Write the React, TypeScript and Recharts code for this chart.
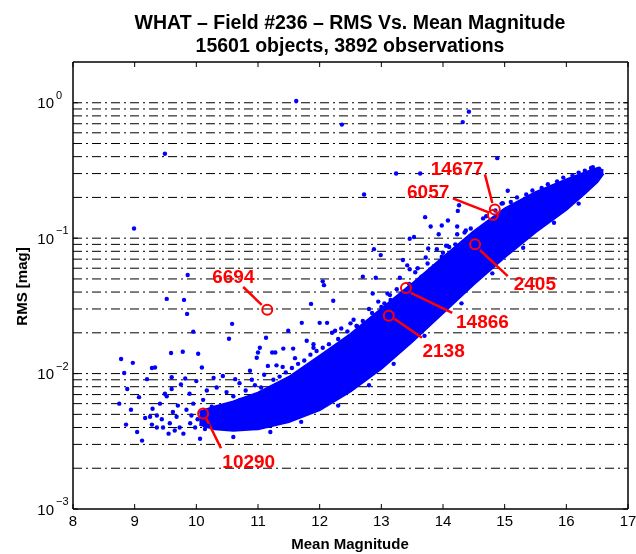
import React from 'react';
import { ComposedChart, Area, Scatter, XAxis, YAxis, CartesianGrid, ReferenceLine } from 'recharts';

const FONT = '"Liberation Sans", Arial, Helvetica, sans-serif';

const titleLine1 = 'WHAT – Field #236 – RMS Vs. Mean Magnitude';
const titleLine2 = '15601 objects, 3892 observations';
const xLabel = 'Mean Magnitude';
const yLabel = 'RMS [mag]';

const xTicks = [8, 9, 10, 11, 12, 13, 14, 15, 16, 17];
const yTicks = [0.001, 0.01, 0.1, 1];
const gridValues = [
  0.002, 0.003, 0.004, 0.005, 0.006, 0.007, 0.008, 0.009, 0.01,
  0.02, 0.03, 0.04, 0.05, 0.06, 0.07, 0.08, 0.09, 0.1,
  0.2, 0.3, 0.4, 0.5, 0.6, 0.7, 0.8, 0.9, 1,
];

// dense core of the RMS-magnitude sequence (lower / upper envelope)
const bandMag = [10.05, 10.3, 10.6, 11.0, 11.5, 12.0, 12.5, 13.0, 13.5, 14.0, 14.5, 15.0, 15.5, 16.0, 16.3, 16.5, 16.6];
const bandLow = [0.0042, 0.0039, 0.0038, 0.0039, 0.0044, 0.0054, 0.0074, 0.0109, 0.0172, 0.0281, 0.0459, 0.0725, 0.111, 0.163, 0.214, 0.26, 0.3];
const bandHigh = [0.0052, 0.0057, 0.0062, 0.0072, 0.0094, 0.0135, 0.0195, 0.03, 0.046, 0.072, 0.112, 0.165, 0.218, 0.27, 0.305, 0.328, 0.315];

const highOutliers: [number, number][] = [
  [8.99, 0.118], [9.49, 0.42], [11.62, 1.03], [12.36, 0.69], [12.72, 0.21], [13.24, 0.3],
  [13.63, 0.3], [14.42, 0.86], [14.32, 0.72], [14.88, 0.39], [15.05, 0.224], [14.97, 0.181],
];

const clusterAbove: [number, number][] = [
  [14.26, 0.175], [14.24, 0.159], [14.08, 0.135], [13.98, 0.124], [13.8, 0.122], [13.93, 0.107],
  [14.23, 0.122], [14.23, 0.107], [14.37, 0.114], [13.53, 0.102], [13.46, 0.099], [13.76, 0.084],
  [13.9, 0.083], [12.88, 0.083], [12.99, 0.075], [13.35, 0.069], [14.1, 0.086], [13.98, 0.073],
  [13.71, 0.143], [13.46, 0.059], [13.3, 0.051], [13.14, 0.038], [13.42, 0.063], [13.59, 0.06],
  [13.72, 0.072], [13.1, 0.039],
];

const midScatter: [number, number][] = [
  [9.86, 0.0535], [9.52, 0.0356], [9.8, 0.035], [9.85, 0.0276], [10.58, 0.0233], [9.95, 0.0204],
  [10.53, 0.0181], [9.78, 0.0145], [9.59, 0.0142], [10.03, 0.014], [11.23, 0.0143], [11.28, 0.0143],
  [10.98, 0.0131], [11.03, 0.0155], [11.13, 0.0184], [10.87, 0.0105], [11.16, 0.0114], [11.57, 0.0153],
  [11.71, 0.0237], [11.86, 0.0327], [11.79, 0.0175], [12.0, 0.0237], [12.12, 0.0237], [12.05, 0.048],
  [12.07, 0.045], [12.22, 0.0345], [12.25, 0.0207], [12.44, 0.0175], [12.7, 0.052], [12.91, 0.051],
  [12.86, 0.039], [12.6, 0.0225], [11.49, 0.0207], [11.0, 0.0143], [11.41, 0.0153],
];

const leftCloud: [number, number][] = [
  [9.33, 0.0111], [9.28, 0.011], [10.09, 0.0111], [9.6, 0.0094], [9.82, 0.0092], [10.0, 0.0088],
  [10.28, 0.0093], [10.43, 0.0096], [10.63, 0.0091], [9.49, 0.0071], [9.52, 0.0068], [9.6, 0.0077],
  [9.75, 0.0083], [9.89, 0.0071], [10.17, 0.0075], [9.41, 0.006], [9.36, 0.0049], [9.28, 0.0042],
  [9.44, 0.0046], [9.46, 0.004], [9.65, 0.0038], [9.79, 0.0036], [10.06, 0.0033], [10.14, 0.0039],
  [10.33, 0.0079], [10.49, 0.0073], [10.6, 0.0068], [10.71, 0.0064], [9.95, 0.006], [10.11, 0.0064],
  [10.25, 0.0057], [9.84, 0.0054], [9.68, 0.0048], [9.57, 0.0043], [9.9, 0.0043], [10.33, 0.0048],
  [10.46, 0.0052], [10.55, 0.0045], [10.65, 0.0048], [10.76, 0.0055], [10.87, 0.006], [9.36, 0.004],
  [9.55, 0.0036], [9.73, 0.004], [9.98, 0.004], [10.19, 0.0041], [10.38, 0.004], [10.6, 0.004],
  [9.25, 0.0048], [9.29, 0.0055], [8.83, 0.0101], [8.88, 0.0077], [8.75, 0.006], [8.94, 0.0054],
  [8.86, 0.0042], [9.04, 0.0037], [9.12, 0.0032], [9.17, 0.0047], [9.07, 0.0067], [9.2, 0.0091],
  [8.97, 0.012], [8.78, 0.0128], [9.7, 0.0058], [9.92, 0.0049], [10.02, 0.0046], [9.62, 0.0052],
];

const edgeDots: [number, number][] = [
  [10.7, 0.0085], [11.1, 0.0098], [11.3, 0.0115], [11.6, 0.013], [11.9, 0.0165], [12.2, 0.02],
  [12.35, 0.0215], [12.55, 0.025], [12.8, 0.03], [12.95, 0.034], [13.25, 0.042], [13.55, 0.056],
  [13.75, 0.065], [14.05, 0.088], [14.35, 0.11], [14.65, 0.14], [14.95, 0.18], [15.2, 0.2],
  [15.45, 0.225], [15.7, 0.25], [15.95, 0.28], [16.2, 0.305], [16.4, 0.33], [16.53, 0.326],
  [16.43, 0.335], [10.6, 0.0034], [11.2, 0.0037], [11.7, 0.0044], [12.3, 0.0058], [12.8, 0.0082],
  [13.2, 0.0118], [13.7, 0.019], [14.3, 0.033], [14.8, 0.055], [15.3, 0.085], [15.8, 0.13], [16.2, 0.18],
];

const upperSpeckle: [number, number][] = [
  [10.8, 0.0075], [10.95, 0.0082], [11.05, 0.0079], [11.25, 0.009], [11.35, 0.0095], [11.45, 0.0102],
  [11.55, 0.011], [11.65, 0.0118], [11.75, 0.0125], [11.85, 0.0138], [11.95, 0.0147], [12.05, 0.0155],
  [12.15, 0.0165], [12.3, 0.018], [12.45, 0.0205], [12.6, 0.0225], [12.7, 0.0245], [12.85, 0.028],
  [13.05, 0.033], [13.15, 0.035], [13.35, 0.04], [13.45, 0.046], [13.65, 0.052], [13.85, 0.062],
  [14.0, 0.078], [14.2, 0.09], [14.45, 0.118], [14.7, 0.145], [14.85, 0.16], [15.1, 0.185],
  [15.35, 0.21], [15.6, 0.235], [15.85, 0.262], [16.1, 0.29], [16.3, 0.315], [10.9, 0.009],
  [11.4, 0.0112], [12.5, 0.0235], [13.0, 0.031], [11.9, 0.0155],
];

// annotated stars
const annIds = ['14677', '6057', '2405', '14866', '2138', '6694', '10290'];
const annMag = [14.84, 14.81, 14.52, 13.4, 13.12, 11.15, 10.11];
const annRms = [0.163, 0.148, 0.09, 0.0428, 0.0267, 0.0296, 0.00508];
const lineStartMag = [14.8, 14.74, 14.6, 13.48, 13.21, 11.06, 10.16];
const lineStartRms = [0.182, 0.155, 0.0816, 0.0394, 0.0254, 0.0322, 0.00467];
const lineEndMag = [14.68, 14.16, 15.05, 14.15, 13.66, 10.76, 10.4];
const lineEndRms = [0.296, 0.197, 0.0525, 0.0281, 0.0184, 0.0436, 0.00281];
const labelMag = [14.23, 13.76, 15.49, 14.64, 14.01, 10.6, 10.85];
const labelRms = [0.33, 0.223, 0.0463, 0.0245, 0.0149, 0.0521, 0.00227];

const bandRows = bandMag.map((m, i) => ({ m, range: [bandLow[i], bandHigh[i]] }));
const toRows = (arr: [number, number][]) => arr.map(([m, r]) => ({ m, r }));
const allDots = [
  ...toRows(highOutliers), ...toRows(clusterAbove), ...toRows(midScatter),
  ...toRows(leftCloud), ...toRows(edgeDots), ...toRows(upperSpeckle),
];
const ringRows = annIds.map((id, i) => ({ id, m: annMag[i], r: annRms[i] }));
const labelRows = annIds.map((id, i) => ({ id, m: labelMag[i], r: labelRms[i] }));

const BLUE = '#0000ff';
const RED = '#ff0000';

const XTickBottom = (props: any) => {
  const { x, y, payload } = props;
  return (
    <g>
      <line x1={x} x2={x} y1={y} y2={y - 5} stroke="#000" strokeWidth={1} />
      <text x={x} y={y + 17} textAnchor="middle" fontSize={15} fontFamily={FONT} fill="#000">{payload.value}</text>
    </g>
  );
};
const XTickTop = (props: any) => {
  const { x, y } = props;
  return <line x1={x} x2={x} y1={y} y2={y + 5} stroke="#000" strokeWidth={1} />;
};
const YTickLeft = (props: any) => {
  const { x, y, payload } = props;
  const e = Math.round(Math.log10(payload.value));
  const exp = e < 0 ? '\u2212' + Math.abs(e) : String(e);
  return (
    <g>
      <line x1={x} x2={x + 5} y1={y} y2={y} stroke="#000" strokeWidth={1} />
      <text x={x - 19} y={y + 5.5} textAnchor="end" fontSize={15} fontFamily={FONT} fill="#000">10</text>
      <text x={x - 17} y={y - 4} textAnchor="start" fontSize={11} fontFamily={FONT} fill="#000">{exp}</text>
    </g>
  );
};
const YTickRight = (props: any) => {
  const { x, y } = props;
  return <line x1={x} x2={x - 5} y1={y} y2={y} stroke="#000" strokeWidth={1} />;
};

const Dot = (p: any) => <circle cx={p.cx} cy={p.cy} r={2.2} fill={BLUE} />;
const Ring = (p: any) => <circle cx={p.cx} cy={p.cy} r={5} fill="none" stroke={RED} strokeWidth={2} />;
const Label = (p: any) => (
  <text x={p.cx} y={p.cy + 6.8} textAnchor="middle" fontSize={19} fontWeight="bold" fontFamily={FONT} fill={RED}>
    {p.payload.id}
  </text>
);

const axisLine = { stroke: '#000', strokeWidth: 1.5 };

export default function App() {
  return (
    <div style={{ position: 'fixed', left: 0, top: 0, width: 636, height: 554, background: '#fff', fontFamily: FONT }}>
      <div style={{ position: 'absolute', left: 0, width: 700, top: 12.9, fontSize: 19.5, lineHeight: '19.5px', fontWeight: 'bold', textAlign: 'center', whiteSpace: 'nowrap' }}>
        {titleLine1}
      </div>
      <div style={{ position: 'absolute', left: 0, width: 700, top: 35.9, fontSize: 19.5, lineHeight: '19.5px', fontWeight: 'bold', textAlign: 'center', whiteSpace: 'nowrap' }}>
        {titleLine2}
      </div>
      <ComposedChart width={636} height={554} data={bandRows} margin={{ top: 52, right: 0, bottom: 0, left: 13 }}>
        <CartesianGrid vertical={false} horizontalValues={gridValues} stroke="#000" strokeWidth={1} strokeDasharray="9 4 2 4" />
        <XAxis dataKey="m" type="number" domain={[8, 17]} ticks={xTicks} interval={0} allowDataOverflow height={45}
          tickSize={0} tickMargin={0} tickLine={false} axisLine={axisLine} tick={<XTickBottom />} />
        <XAxis xAxisId="top" orientation="top" dataKey="m" type="number" domain={[8, 17]} ticks={xTicks} interval={0}
          allowDataOverflow height={10} tickSize={0} tickMargin={0} tickLine={false} axisLine={axisLine} tick={<XTickTop />} />
        <YAxis scale="log" type="number" domain={[0.001, 2]} ticks={yTicks} interval={0} allowDataOverflow width={60}
          tickSize={0} tickMargin={0} tickLine={false} axisLine={axisLine} tick={<YTickLeft />} />
        <YAxis yAxisId="right" orientation="right" scale="log" type="number" domain={[0.001, 2]} ticks={yTicks} interval={0}
          allowDataOverflow width={8} tickSize={0} tickMargin={0} tickLine={false} axisLine={axisLine} tick={<YTickRight />} />
        <Area dataKey="range" type="linear" stroke={BLUE} strokeWidth={2.5} fill={BLUE} fillOpacity={1} isAnimationActive={false} />
        <Scatter data={allDots} dataKey="r" shape={<Dot />} isAnimationActive={false} />
        <Scatter data={ringRows} dataKey="r" shape={<Ring />} isAnimationActive={false} />
        {annIds.map((id, i) => (
          <ReferenceLine key={id} segment={[{ x: lineStartMag[i], y: lineStartRms[i] }, { x: lineEndMag[i], y: lineEndRms[i] }]}
            stroke={RED} strokeWidth={2.5} />
        ))}
        <Scatter data={labelRows} dataKey="r" shape={<Label />} isAnimationActive={false} />
      </ComposedChart>
      <div style={{ position: 'absolute', left: 250, width: 200, top: 536.3, fontSize: 15, lineHeight: '15px', fontWeight: 'bold', textAlign: 'center' }}>
        {xLabel}
      </div>
      <div style={{ position: 'absolute', left: -79, width: 200, top: 278.5, fontSize: 15, lineHeight: '15px', fontWeight: 'bold', textAlign: 'center', transform: 'rotate(-90deg)', transformOrigin: 'center' }}>
        {yLabel}
      </div>
    </div>
  );
}
